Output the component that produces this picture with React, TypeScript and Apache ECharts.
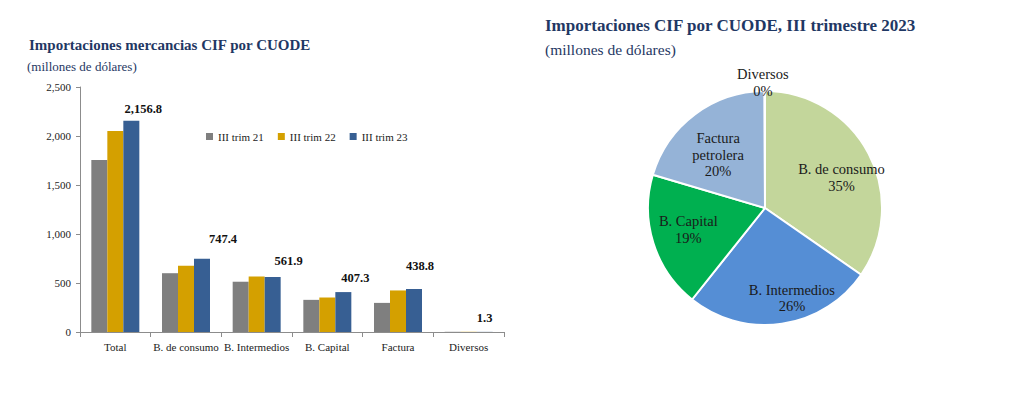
import React, { useEffect, useRef } from "react";
import * as echarts from "echarts";

const categories = ["Total", "B. de consumo", "B. Intermedios", "B. Capital", "Factura", "Diversos"];
const seriesNames = ["III trim 21", "III trim 22", "III trim 23"];
const trim21 = [1755, 600, 513, 328, 297, 2];
const trim22 = [2050, 677, 567, 352, 424, 2];
const trim23 = [2156.8, 747.4, 561.9, 407.3, 438.8, 1.3];
const yMin = 0;
const yMax = 2500;
const yInterval = 500;

const pieNames = ["B. de consumo", "B. Intermedios", "B. Capital", "Factura petrolera", "Diversos"];
const pieLabelNames = ["B. de consumo", "B. Intermedios", "B. Capital", "Factura\npetrolera", "Diversos"];
const pieValues = [747.4, 561.9, 407.3, 438.8, 1.3];

const barColors = ["#7F7F7F", "#D4A000", "#375F93"];
const pieColors = ["#C3D69B", "#558ED5", "#00B050", "#95B3D7", "#4F81BD"];
const barLabelShift = [
  [12, 0],
  [21, -8],
  [16, -4],
  [12, -3],
  [6, -11],
  [0, -2],
];
const pieLabelShift = [
  [22, -2],
  [18, 29],
  [-18, 3],
  [-10, -4],
  [-2, -64],
];

const FONT = "Liberation Serif";
const NAVY = "#1F3864";

export default function App() {
  const ref = useRef<HTMLDivElement>(null);
  useEffect(() => {
    if (!ref.current) return;
    const chart = echarts.init(ref.current, undefined, { renderer: "svg" });
    const fmt = (v: number) =>
      v.toLocaleString("en-US", { minimumFractionDigits: 1, maximumFractionDigits: 1 });
    const barData = [trim21, trim22, trim23];
    const option: any = {
      animation: false,
      backgroundColor: "#ffffff",
      title: [
        {
          text: "Importaciones mercancias CIF por CUODE",
          left: 29,
          top: 37,
          padding: 0,
          textStyle: { fontFamily: FONT, fontSize: 15, fontWeight: "bold", color: NAVY },
        },
        {
          text: "(millones de dólares)",
          left: 27,
          top: 60,
          padding: 0,
          textStyle: { fontFamily: FONT, fontSize: 13, fontWeight: "normal", color: NAVY },
        },
        {
          text: "Importaciones CIF por CUODE, III trimestre 2023",
          left: 545,
          top: 17,
          padding: 0,
          textStyle: { fontFamily: FONT, fontSize: 17, fontWeight: "bold", color: NAVY },
        },
        {
          text: "(millones de dólares)",
          left: 545,
          top: 41,
          padding: 0,
          textStyle: { fontFamily: FONT, fontSize: 15.5, fontWeight: "normal", color: NAVY },
        },
      ],
      legend: {
        data: seriesNames,
        left: 206,
        top: 131,
        padding: 0,
        icon: "rect",
        itemWidth: 7,
        itemHeight: 7,
        itemGap: 14,
        textStyle: { fontFamily: FONT, fontSize: 11, color: "#222" },
      },
      grid: { left: 80, top: 87, width: 424, height: 245, containLabel: false },
      xAxis: {
        type: "category",
        data: categories,
        axisLine: { lineStyle: { color: "#8C8C8C", width: 1 } },
        axisTick: { show: true, length: 5, lineStyle: { color: "#8C8C8C" } },
        axisLabel: { fontFamily: FONT, fontSize: 11, color: "#222", margin: 9, interval: 0 },
      },
      yAxis: {
        type: "value",
        min: yMin,
        max: yMax,
        interval: yInterval,
        axisLine: { show: true, lineStyle: { color: "#8C8C8C", width: 1 } },
        axisTick: { show: true, length: 4, lineStyle: { color: "#8C8C8C" } },
        splitLine: { show: false },
        axisLabel: {
          fontFamily: FONT,
          fontSize: 11,
          color: "#222",
          margin: 9,
          formatter: (v: number) => v.toLocaleString("en-US"),
        },
      },
      series: [
        ...seriesNames.map((name, i) => ({
          type: "bar",
          name,
          data: barData[i],
          barWidth: 16,
          barGap: "0%",
          itemStyle: { color: barColors[i] },
          label:
            i === 2
              ? {
                  show: true,
                  position: "top",
                  fontFamily: FONT,
                  fontSize: 12.5,
                  fontWeight: "bold",
                  color: "#111",
                  formatter: (p: any) => fmt(p.value),
                }
              : { show: false },
          labelLayout:
            i === 2
              ? (p: any) => ({ dx: barLabelShift[p.dataIndex][0], dy: barLabelShift[p.dataIndex][1] })
              : undefined,
        })),
        {
          type: "pie",
          center: [765, 208],
          radius: 117,
          startAngle: 90,
          clockwise: true,
          avoidLabelOverlap: false,
          itemStyle: { borderColor: "#ffffff", borderWidth: 2 },
          label: {
            show: true,
            position: "inside",
            fontFamily: FONT,
            fontSize: 14.5,
            lineHeight: 16.5,
            color: "#1a1a1a",
            formatter: (p: any) => `${pieLabelNames[p.dataIndex]}\n${Math.round(p.percent)}%`,
          },
          labelLine: { show: false },
          labelLayout: (p: any) => ({ dx: pieLabelShift[p.dataIndex][0], dy: pieLabelShift[p.dataIndex][1] }),
          data: pieNames.map((n, i) => ({ name: n, value: pieValues[i], itemStyle: { color: pieColors[i] } })),
        },
      ],
    };
    chart.setOption(option);
    return () => chart.dispose();
  }, []);
  return (
    <div
      ref={ref}
      style={{ position: "absolute", left: 0, top: 0, width: 1014, height: 396, background: "#fff" }}
    />
  );
}
